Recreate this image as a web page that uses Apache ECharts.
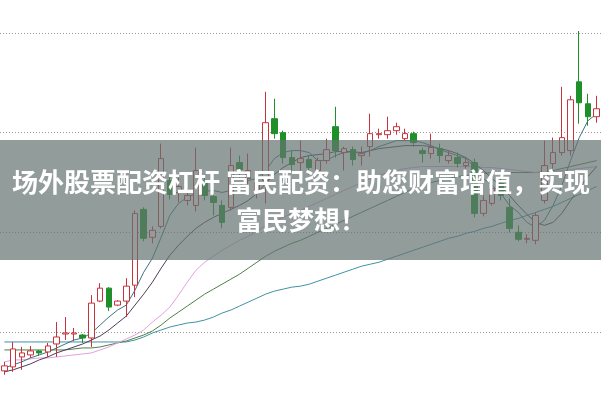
<!DOCTYPE html>
<html>
<head>
<meta charset="utf-8">
<script src="https://cdn.jsdelivr.net/npm/echarts@6/dist/echarts.min.js"></script>
<style>html,body{margin:0;padding:0;background:#fff;}#c{width:601px;height:401px;}</style>
</head>
<body>
<div id="c"></div>
<script>
// categories (trading days)
var days = Array.from({length: 69}, function (_, i) { return 'D' + (i + 1); });

// candle values: [open, close, low, high]
var candles = [
  [9.61,9.66,9.57,9.70],[9.65,9.83,9.60,9.90],[9.75,9.79,9.62,9.85],[9.77,9.81,9.74,9.86],[9.81,9.79,9.76,9.82],
  [9.80,9.86,9.75,9.89],[9.88,9.95,9.75,10.10],[9.98,9.99,9.92,10.15],[9.98,9.99,9.91,10.04],[9.97,9.94,9.89,9.98],
  [9.94,10.29,9.85,10.37],[10.31,10.44,10.30,10.49],[10.44,10.25,10.21,10.45],[10.27,10.31,10.26,10.32],[10.31,10.46,10.15,10.54],
  [10.47,11.19,10.35,11.22],[11.23,10.94,10.91,11.25],[10.95,11.02,10.89,11.06],[11.06,11.74,11.04,11.89],[11.52,11.38,11.33,11.57],
  [11.40,11.46,11.30,11.55],[11.32,11.37,11.27,11.44],[11.27,11.62,11.21,11.85],[11.52,11.37,11.32,11.57],[11.36,11.30,11.17,11.42],
  [11.27,11.10,11.04,11.32],[11.25,11.67,11.22,11.85],[11.70,11.63,11.55,11.77],[11.54,11.62,11.45,11.79],[11.42,11.50,11.34,11.57],
  [11.52,12.10,11.29,12.41],[12.14,11.99,11.94,12.34],[12.00,11.75,11.69,12.02],[11.75,11.68,11.62,11.82],[11.70,11.74,11.62,11.92],
  [11.73,11.65,11.58,11.77],[11.62,11.72,11.60,11.75],[11.72,11.83,11.69,11.94],[12.06,11.82,11.75,12.26],[11.80,11.84,11.62,11.86],
  [11.83,11.73,11.67,11.86],[11.77,11.79,11.67,11.86],[11.86,11.99,11.76,12.19],[11.98,11.99,11.94,12.04],[11.98,12.02,11.94,12.16],
  [12.02,12.06,11.98,12.10],[11.94,11.99,11.92,12.04],[11.99,11.90,11.86,12.01],[11.82,11.79,11.70,11.85],[11.79,11.85,11.74,11.99],
  [11.84,11.77,11.70,11.89],[11.72,11.77,11.69,11.82],[11.75,11.69,11.65,11.80],[11.67,11.70,11.64,11.74],[11.70,11.19,11.15,11.74],
  [11.19,11.32,11.16,11.37],[11.29,11.44,11.27,11.52],[11.49,11.37,11.32,11.55],[11.25,11.04,11.00,11.34],[11.00,10.93,10.91,11.07],
  [10.93,10.94,10.89,10.98],[10.92,11.17,10.88,11.20],[11.32,11.67,11.29,11.92],[11.69,11.80,11.64,11.95],[11.80,11.95,11.77,12.46],
  [11.82,12.33,11.77,12.37],[12.51,12.30,12.09,13.02],[12.29,12.16,12.07,12.39],[12.16,12.24,12.10,12.37]
];

var ma5 = [9.64,9.67,9.70,9.74,9.77,9.80,9.84,9.88,9.92,9.94,
  9.99,10.07,10.15,10.22,10.27,10.42,10.60,10.74,10.95,11.17,
  11.29,11.35,11.39,11.41,11.42,11.40,11.42,11.47,11.52,11.54,
  11.62,11.74,11.80,11.82,11.82,11.80,11.72,11.72,11.77,11.80,
  11.81,11.79,11.82,11.86,11.89,11.92,11.92,11.92,11.90,11.87,
  11.83,11.80,11.77,11.74,11.65,11.54,11.47,11.39,11.27,11.20,
  11.10,11.05,11.12,11.27,11.47,11.72,11.95,12.12,12.19];

var ma10 = [9.60,9.62,9.65,9.68,9.72,9.75,9.79,9.82,9.85,9.88,
  9.92,9.96,10.02,10.09,10.16,10.27,10.38,10.50,10.64,10.77,
  10.87,10.96,11.04,11.10,11.15,11.19,11.23,11.27,11.32,11.39,
  11.49,11.58,11.65,11.70,11.75,11.77,11.78,11.79,11.81,11.81,
  11.81,11.80,11.82,11.84,11.85,11.86,11.87,11.87,11.87,11.86,
  11.84,11.82,11.79,11.75,11.69,11.62,11.54,11.46,11.37,11.27,
  11.18,11.10,11.07,11.10,11.19,11.32,11.44,11.56,11.66];

var ma20 = [9.70,9.72,9.72,9.73,9.74,9.74,9.75,9.76,9.77,9.78,
  9.79,9.82,9.85,9.89,9.93,9.97,10.02,10.10,10.17,10.25,
  10.37,10.50,10.62,10.70,10.76,10.82,10.87,10.92,10.96,11.01,
  11.07,11.11,11.15,11.19,11.22,11.26,11.30,11.34,11.38,11.42,
  11.46,11.50,11.54,11.57,11.60,11.62,11.64,11.65,11.66,11.66,
  11.66,11.66,11.66,11.66,11.66,11.65,11.65,11.64,11.63,11.62,
  11.61,11.60,11.60,11.61,11.62,11.63,11.64,11.65,11.66];

var ma30 = [9.82,9.82,9.82,9.82,9.82,9.82,9.82,9.82,9.83,9.84,
  9.84,9.85,9.87,9.89,9.91,9.94,9.97,10.01,10.07,10.14,
  10.20,10.26,10.32,10.38,10.43,10.48,10.53,10.58,10.64,10.70,
  10.76,10.81,10.85,10.89,10.92,10.96,11.00,11.04,11.08,11.12,
  11.16,11.20,11.24,11.28,11.32,11.36,11.40,11.44,11.47,11.50,
  11.52,11.54,11.56,11.57,11.58,11.59,11.60,11.60,11.60,11.60,
  11.60,11.60,11.61,11.62,11.64,11.66,11.68,11.70,11.72];

var ma60 = [9.90,9.90,9.90,9.90,9.90,9.90,9.90,9.90,9.90,9.90,
  9.90,9.90,9.90,9.90,9.90,9.92,9.95,9.99,10.02,10.05,
  10.07,10.09,10.10,10.12,10.15,10.19,10.22,10.26,10.30,10.34,
  10.38,10.41,10.43,10.45,10.46,10.48,10.51,10.54,10.57,10.60,
  10.63,10.66,10.68,10.70,10.73,10.76,10.79,10.82,10.85,10.88,
  10.91,10.94,10.96,10.99,11.01,11.04,11.06,11.09,11.12,11.14,
  11.17,11.20,11.23,11.26,11.30,11.34,11.38,11.42,11.46];

var bannerLine1 = '场外股票配资杠杆 富民配资：助您财富增值，实现';
var bannerLine2 = '富民梦想！';

var chart = echarts.init(document.getElementById('c'), null, {renderer: 'canvas'});

function maSeries(name, data, color) {
  return {
    name: name, type: 'line', data: data, symbol: 'none', clip: false,
    lineStyle: {color: color, width: 1}, z: 2, silent: true
  };
}

chart.setOption({
  animation: false,
  backgroundColor: '#ffffff',
  grid: {left: -2, right: -1, top: 33, height: 299},
  xAxis: {
    type: 'category', data: days, boundaryGap: true,
    axisLine: {show: false}, axisTick: {show: false}, axisLabel: {show: false}, splitLine: {show: false}
  },
  yAxis: {
    type: 'value', min: 10, max: 13, interval: 1, scale: true,
    axisLine: {show: false}, axisTick: {show: false}, axisLabel: {show: false},
    splitLine: {show: true, lineStyle: {color: '#9a9a9a', width: 1, type: [1, 2]}}
  },
  series: [
    maSeries('MA60', ma60, '#3f93a5'),
    maSeries('MA30', ma30, '#4f7f45'),
    maSeries('MA20', ma20, '#e3a0e3'),
    maSeries('MA10', ma10, '#4d3d5c'),
    maSeries('MA5', ma5, '#3a7482'),
    {
      name: 'K', type: 'candlestick', data: candles, barWidth: 6, clip: false, z: 3,
      itemStyle: {
        color: '#ffffff', color0: '#1f8f2a',
        borderColor: '#c8323c', borderColor0: '#1f8f2a', borderWidth: 1
      }
    }
  ],
  graphic: [
    {type: 'rect', z: 100, shape: {x: 0, y: 140, width: 601, height: 120},
     style: {fill: 'rgba(100,115,113,0.7)'}},
    {type: 'text', z: 101, x: 301, y: 182,
     style: {text: bannerLine1, fill: '#ffffff', fontSize: 26, fontWeight: 'bold',
             fontFamily: '"Noto Sans CJK SC", sans-serif', align: 'center', verticalAlign: 'middle'}},
    {type: 'text', z: 101, x: 301, y: 220,
     style: {text: bannerLine2, fill: '#ffffff', fontSize: 26, fontWeight: 'bold',
             fontFamily: '"Noto Sans CJK SC", sans-serif', align: 'center', verticalAlign: 'middle'}}
  ]
});
</script>
</body>
</html>
